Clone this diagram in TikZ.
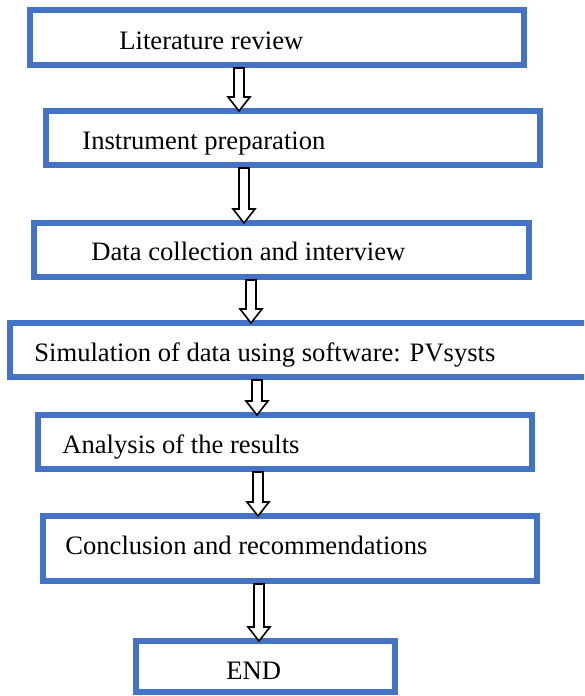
\documentclass[tikz,border=0pt]{standalone}
\usepackage{fontspec}
\setmainfont{Liberation Serif}
\usetikzlibrary{calc}
\definecolor{boxblue}{RGB}{68,114,196}
\tikzset{
  flowbox/.style={draw=boxblue, line width=3pt, rectangle, inner sep=0pt, fill=white},
  flowtext/.style={anchor=base west, inner sep=0pt, font=\fontsize{13.3}{16}\selectfont},
  arrowline/.style={draw=black, fill=white, line width=0.8pt, line join=miter}
}
\newcommand\flowarrow[3]{%
  \draw[arrowline] let \p1=(#2.south), \p2=(#3.north) in
    ({#1*0.5pt-2.5pt},\y1) -- ({#1*0.5pt+2.5pt},\y1) -- ({#1*0.5pt+2.5pt},\y2+5.5pt)
    -- ({#1*0.5pt+5.5pt},\y2+5.5pt) -- ({#1*0.5pt},\y2-1.5pt) -- ({#1*0.5pt-5.5pt},\y2+5.5pt)
    -- ({#1*0.5pt-2.5pt},\y2+5.5pt) -- cycle;}
\begin{document}
\begin{tikzpicture}[x=0.5pt,y=-0.5pt]
\clip (0,0) rectangle (584,696);
\fill[white] (0,0) rectangle (584,696);
% boxes
\node[flowbox, minimum width=247pt, minimum height=27.5pt] (b1) at (277,37.5) {};
\node[flowbox, minimum width=247pt, minimum height=27pt] (b2) at (293,138) {};
\node[flowbox, minimum width=247.5pt, minimum height=27pt] (b3) at (281.5,250) {};
\node[flowbox, minimum width=293.5pt, minimum height=27pt] (b4) at (303.5,350) {};
\node[flowbox, minimum width=247pt, minimum height=27pt] (b5) at (285,442) {};
\node[flowbox, minimum width=247pt, minimum height=32.5pt] (b6) at (290,548.5) {};
\node[flowbox, minimum width=129.5pt, minimum height=25.5pt] (b7) at (265.5,666.5) {};
% texts
\node[flowtext] (t1) at (119,49) {Literature review};
\node[flowtext] (t2) at (82,149) {Instrument preparation};
\node[flowtext] (t3) at (91,260) {Data collection and interview};
\node[flowtext] (t4) at (34,361) {Simulation of data using software: PVsysts};
\node[flowtext] (t5) at (62,453) {Analysis of the results};
\node[flowtext] (t6) at (65,554) {Conclusion and recommendations};
\node[flowtext] (t7) at (226,679) {END};
% arrows
\flowarrow{239}{b1}{b2}
\flowarrow{244}{b2}{b3}
\flowarrow{251}{b3}{b4}
\flowarrow{257}{b4}{b5}
\flowarrow{258}{b5}{b6}
\flowarrow{259}{b6}{b7}
\end{tikzpicture}
\end{document}
